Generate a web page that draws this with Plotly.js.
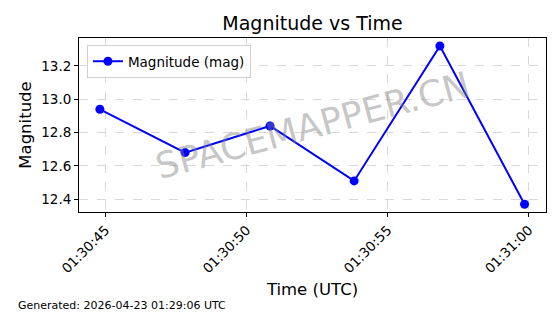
<!DOCTYPE html>
<html>
<head>
<meta charset="utf-8">
<script src="https://cdn.plot.ly/plotly-3.0.1.min.js"></script>
<style>html,body{margin:0;padding:0;background:#fff;}#chart{width:560px;height:314px;}</style>
</head>
<body>
<div id="chart"></div>
<script>
const times = [
  "2026-04-23 01:30:44.80",
  "2026-04-23 01:30:47.82",
  "2026-04-23 01:30:50.83",
  "2026-04-23 01:30:53.81",
  "2026-04-23 01:30:56.85",
  "2026-04-23 01:30:59.85"
];
const magnitudes = [12.94, 12.68, 12.84, 12.51, 13.32, 12.37];
const seriesName = "Magnitude (mag)";
const titleText = "Magnitude vs Time";
const xTitle = "Time (UTC)";
const yTitle = "Magnitude";
const footerText = "Generated: 2026-04-23 01:29:06 UTC";
const watermark = "SPACEMAPPER.CN";

const font = "DejaVu Sans, sans-serif";

const trace = {
  x: times, y: magnitudes, type: "scatter", mode: "lines+markers",
  name: seriesName,
  line: {color: "#0000ff", width: 2},
  marker: {color: "#0000ff", size: 9}
};

const layout = {
  width: 560, height: 314,
  margin: {l: 79, r: 14, t: 38, b: 102},
  paper_bgcolor: "#fff", plot_bgcolor: "#fff",
  font: {family: font, color: "#000"},
  showlegend: true,
  title: {text: titleText, font: {size: 19, family: font, color: "#000"},
          x: 0.5, xref: "paper", xanchor: "center", y: 1 - 23/314, yanchor: "middle"},
  xaxis: {
    type: "date",
    range: ["2026-04-23 01:30:44.06", "2026-04-23 01:31:00.61"],
    tickformat: "%H:%M:%S", dtick: 5000, tick0: "2026-04-23 01:30:45",
    tickangle: -45, tickfont: {size: 13.5, family: font},
    ticks: "outside", ticklen: 4, tickcolor: "#000",
    showline: true, mirror: true, linecolor: "#000", linewidth: 1,
    showgrid: true, gridcolor: "#cfcfcf", griddash: "dash", gridwidth: 0.8,
    zeroline: false,
    title: {text: xTitle, font: {size: 16.5, family: font}, standoff: 8}
  },
  yaxis: {
    range: [12.3235, 13.368],
    dtick: 0.2, tick0: 12.4, tickformat: ".1f",
    tickfont: {size: 13.5, family: font},
    ticks: "outside", ticklen: 4, tickcolor: "#000",
    showline: true, mirror: true, linecolor: "#000", linewidth: 1,
    showgrid: true, gridcolor: "#cfcfcf", griddash: "dash", gridwidth: 0.8,
    zeroline: false,
    title: {text: yTitle, font: {size: 16.5, family: font}, standoff: 5}
  },
  legend: {
    x: 0.017, y: 0.96, xanchor: "left", yanchor: "top",
    bgcolor: "rgba(255,255,255,0.8)", bordercolor: "#d0d0d0", borderwidth: 1,
    font: {size: 13.5, family: font}
  },
  annotations: [
    {text: watermark, xref: "paper", yref: "paper", x: 0.5, y: 0.5,
     xanchor: "center", yanchor: "middle", showarrow: false, textangle: -15,
     font: {size: 36, family: font, color: "rgba(128,128,128,0.45)"}},
    {text: footerText, xref: "paper", yref: "paper", x: (16-79)/466.7, y: (212-305)/174,
     xanchor: "left", yanchor: "middle", showarrow: false,
     font: {size: 11, family: font, color: "#000"}}
  ]
};

Plotly.newPlot("chart", [trace], layout, {displayModeBar: false, staticPlot: true});
</script>
</body>
</html>
